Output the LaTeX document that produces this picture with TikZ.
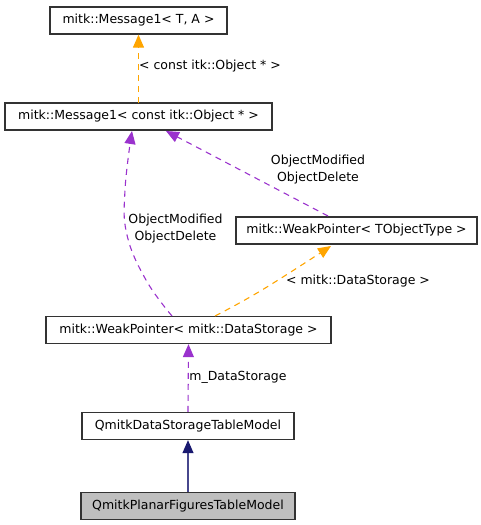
\documentclass[tikz,border=0pt]{standalone}
\usepackage{fontspec}
\setmainfont{DejaVu Sans}
\usetikzlibrary{arrows.meta}
\definecolor{edgepurple}{HTML}{9A32CD}
\definecolor{edgeorange}{HTML}{FFA500}
\definecolor{edgenavy}{HTML}{191970}
\tikzset{
  classbox/.style={draw=black!80, line width=1.3pt, minimum height=27pt, inner sep=2pt, font=\fontsize{12.5}{14.5}\selectfont},
  uses/.style={edgepurple, line width=1.1pt, dash pattern=on 6pt off 5pt, -{Triangle[length=13pt,width=11pt]}},
  tmpl/.style={edgeorange, line width=1.1pt, dash pattern=on 6pt off 5pt, -{Triangle[length=13pt,width=11pt]}},
  inherit/.style={edgenavy!80!white, line width=1.1pt, -{Triangle[length=13pt,width=11pt,color=edgenavy]}},
  elabel/.style={font=\fontsize{12.5}{17}\selectfont, align=center, inner sep=0pt}
}
\begin{document}
\begin{tikzpicture}[x=1pt,y=-1pt]
\useasboundingbox (0,0) rectangle (481,525);

\node (msgta) at (138.5,20.5) [classbox, minimum width=177pt] {mitk::Message1< T, A >};
\node (msgobj) at (138.5,116.5) [classbox, minimum width=267pt] {mitk::Message1< const itk::Object * >};
\node (wpto) at (356.5,230.5) [classbox, minimum width=241pt] {mitk::WeakPointer< TObjectType >};
\node (wpds) at (188.5,330) [classbox, minimum width=285pt] {mitk::WeakPointer< mitk::DataStorage >};
\node (dstm) at (188,426) [classbox, minimum width=212pt] {QmitkDataStorageTableModel};
\node (pftm) at (188,506) [classbox, minimum width=214pt, fill=black!25] {QmitkPlanarFiguresTableModel};

\coordinate (c1) at (138.5,103);
\coordinate (c2) at (172,316);
\coordinate (c3) at (328,216);
\coordinate (c4) at (215,316);

\draw [tmpl] (c1) -- (msgta.south);
\draw [uses] plot[smooth, tension=.7] coordinates {(c2) (146,280) (127,235) (125,190) (132,131)};
\draw [uses] (c3) -- (166,131);
\draw [tmpl] plot[smooth, tension=.7] coordinates {(c4) (262,290) (331,246)};
\draw [uses] (dstm.north) -- (wpds.south);
\draw [inherit] (pftm.north) -- (dstm.south);

\node at (210,66) [elabel] {< const itk::Object * >};
\node at (175.5,229) [elabel] {ObjectModified\\ObjectDelete};
\node at (318,170) [elabel] {ObjectModified\\ObjectDelete};
\node at (358,281) [elabel] {< mitk::DataStorage >};
\node at (238,377) [elabel] {m\_DataStorage};
\end{tikzpicture}
\end{document}
